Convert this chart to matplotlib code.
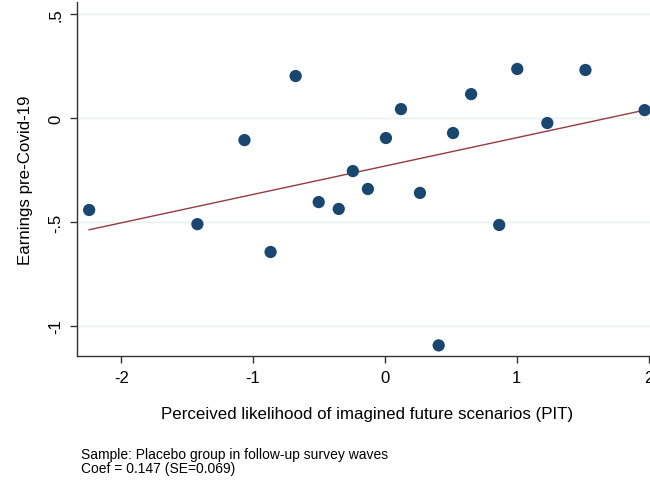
import numpy as np
import matplotlib
matplotlib.use("Agg")
import matplotlib.pyplot as plt

plt.rcParams['font.family'] = ['Liberation Sans', 'DejaVu Sans']

# Data
pit = [-2.243, -1.422, -1.065, -0.867, -0.677, -0.502, -0.350, -0.243, -0.129,
       0.008, 0.122, 0.266, 0.408, 0.517, 0.654, 0.867, 1.004, 1.232, 1.521, 1.970]
earnings = [-0.442, -0.510, -0.106, -0.644, 0.202, -0.404, -0.437, -0.255, -0.341,
            -0.096, 0.043, -0.360, -1.093, -0.072, 0.115, -0.514, 0.236, -0.024, 0.231, 0.038]
xticks = [-2, -1, 0, 1, 2]
xticklabels = ['-2', '-1', '0', '1', '2']
yticks = [0.5, 0, -0.5, -1]
yticklabels = ['.5', '0', '-.5', '-1']
# fitted line endpoints
fit_x = [-2.243, 1.970]
fit_y = [-0.537, 0.038]

fig = plt.figure(figsize=(6.5, 4.81), dpi=100)
ax = fig.add_axes([0.1185, 0.2578, 0.8815 + 0.01, 0.736])

for yt in yticks:
    ax.axhline(yt, color='#e8f0f2', lw=1.0, zorder=0)

ax.scatter(pit, earnings, s=78, color='#1a476f', edgecolors='none', zorder=3)
ax.plot(fit_x, fit_y, color='#953a42', lw=1.0, zorder=2)

ax.set_xlim(-2.335, 2.06)
ax.set_ylim(-1.144, 0.558)
ax.set_xticks(xticks)
ax.set_xticklabels(xticklabels, fontsize=12)
ax.set_yticks(yticks)
ax.set_yticklabels(yticklabels, fontsize=12, rotation=90, va='center')

for s in ['top', 'right']:
    ax.spines[s].set_visible(False)
for s in ['left', 'bottom']:
    ax.spines[s].set_color('#333333')
    ax.spines[s].set_linewidth(1.0)
ax.tick_params(axis='both', direction='out', length=5, width=1.0, color='#333333', pad=5)

ax.set_xlabel('Perceived likelihood of imagined future scenarios (PIT)', fontsize=12.2, labelpad=15)
ax.set_ylabel('Earnings pre-Covid-19', fontsize=12.2, labelpad=11)

fig.text(81/650, 1 - 455/481, 'Sample: Placebo group in follow-up survey waves', fontsize=10, va='center', ha='left')
fig.text(81/650, 1 - 469/481, 'Coef = 0.147 (SE=0.069)', fontsize=10, va='center', ha='left')

fig.savefig('out.png', dpi=100)
